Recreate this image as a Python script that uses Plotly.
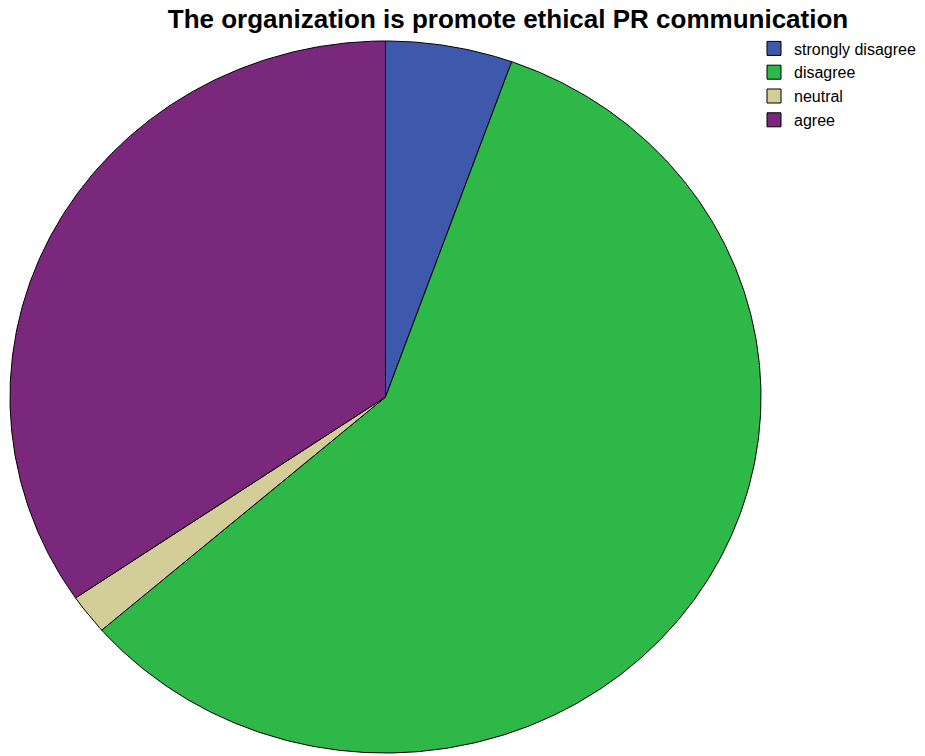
import numpy as np
import plotly.graph_objects as go

# Survey responses
categories = ["strongly disagree", "disagree", "neutral", "agree"]
counts = [3, 32, 1, 19]
colors = ["#3E58AC", "#2EB848", "#D3CE97", "#7A287B"]
title_text = "The organization is promote ethical PR communication"

W, H = 925, 756
# pie geometry in pixels (the pie is drawn on an x/y grid so it can be elliptical)
cx, cy, rx, ry = 385.5, 397.0, 375.5, 356.0
ml, mr, mt, mb = 2, 157, 34, 1

fig = go.Figure()

total = float(sum(counts))
start = 0.0
for name, val, col in zip(categories, counts, colors):
    frac = val / total
    a0, a1 = 2 * np.pi * start, 2 * np.pi * (start + frac)
    n = max(3, int(np.degrees(a1 - a0) * 2))
    t = np.linspace(a0, a1, n)
    xs = np.concatenate([[0.0], np.sin(t), [0.0]])
    ys = np.concatenate([[0.0], np.cos(t), [0.0]])
    fig.add_trace(go.Scatter(
        x=xs, y=ys, mode="lines", fill="toself", fillcolor=col,
        line=dict(color="#000000", width=1), name=name, legendgroup=name,
        showlegend=False, hoveron="fills",
        hovertemplate=f"{name}: {val}<extra></extra>"))
    start += frac

# legend entries as square swatches
for name, col in zip(categories, colors):
    fig.add_trace(go.Scatter(
        x=[None], y=[None], mode="markers", name=name, legendgroup=name,
        marker=dict(symbol="square", size=14, color=col,
                    line=dict(color="#000000", width=1))))

x0 = (ml - cx) / rx
x1 = (W - mr - cx) / rx
y1 = (cy - mt) / ry
y0 = -(H - mb - cy) / ry

fig.update_layout(
    width=W, height=H,
    margin=dict(l=ml, r=mr, t=mt, b=mb, autoexpand=False),
    paper_bgcolor="white", plot_bgcolor="white",
    xaxis=dict(range=[x0, x1], visible=False, fixedrange=True),
    yaxis=dict(range=[y0, y1], visible=False, fixedrange=True),
    title=dict(text=f"<b>{title_text}</b>", x=508 / W, xref="container",
               xanchor="center", y=1 - 19 / H, yref="container", yanchor="middle",
               font=dict(family="Arial", size=26, color="#000000")),
    legend=dict(x=754 / W, xref="container", xanchor="left",
                y=1 - 31.5 / H, yref="container", yanchor="top",
                font=dict(family="Arial", size=16, color="#000000"),
                bgcolor="rgba(0,0,0,0)", itemwidth=30, tracegroupgap=0),
    showlegend=True,
)

fig.write_html("out.html")
